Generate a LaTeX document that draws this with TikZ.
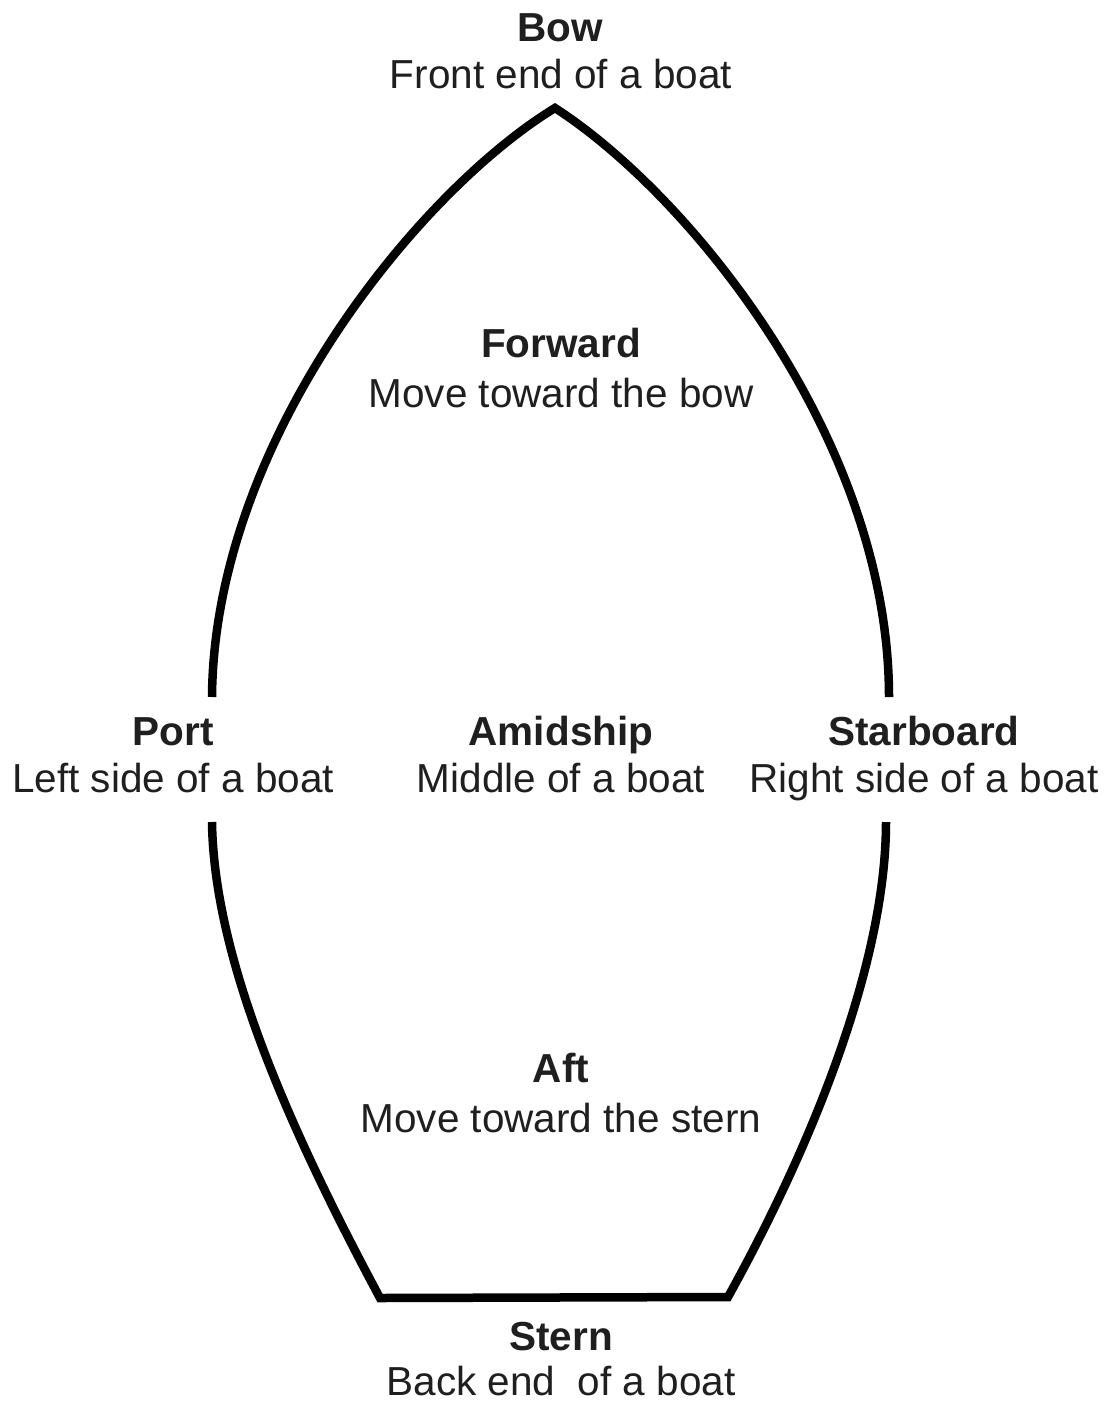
\documentclass[tikz,border=0pt]{standalone}
\usepackage{fontspec}
\setmainfont{Liberation Sans}
\begin{document}
\begin{tikzpicture}[x=1pt,y=-1pt,
  hull/.style={line width=8.5pt,line cap=butt,line join=miter,black},
  term/.style={anchor=base,inner sep=0pt,font=\fontsize{40.5}{46}\selectfont\bfseries,text=black!88},
  desc/.style={anchor=base,inner sep=0pt,font=\fontsize{40.5}{46}\selectfont,text=black!88}]
\useasboundingbox[fill=white] (0,0) rectangle (1107,1401);
% hull points
\coordinate (bowtip) at (555,108);
\coordinate (portup) at (212,697);
\coordinate (stbdup) at (889,697);
\coordinate (portlo) at (212,822);
\coordinate (stbdlo) at (886,822);
\coordinate (sternL) at (380,1298);
\coordinate (sternR) at (728,1297);
\draw[hull] (portup) .. controls (214,440) and (420,190) .. (bowtip)
  .. controls (690,195) and (889,440) .. (stbdup);
\draw[hull] (portlo) .. controls (214,960) and (290,1130) .. (sternL)
  -- (sternR) .. controls (815,1140) and (886,960) .. (stbdlo);
% labels
\node[term] (bow) at (560,41) {Bow};
\node[desc] (bowd) at (561,88) {Front end of a boat};
\node[term] (fwd) at (561,357) {Forward};
\node[desc] (fwdd) at (561,407) {Move toward the bow};
\node[term] (port) at (173,745) {Port};
\node[desc] (portd) at (173,792) {Left side of a boat};
\node[term] (mid) at (561,745) {Amidship};
\node[desc] (midd) at (561,792) {Middle of a boat};
\node[term] (stbd) at (924,745) {Starboard};
\node[desc] (stbdd) at (924,792) {Right side of a boat};
\node[term] (aft) at (561,1082) {Aft};
\node[desc] (aftd) at (561,1132) {Move toward the stern};
\node[term] (stern) at (561,1350) {Stern};
\node[desc] (sternd) at (561,1395) {Back end\ \ of a boat};
\end{tikzpicture}
\end{document}
